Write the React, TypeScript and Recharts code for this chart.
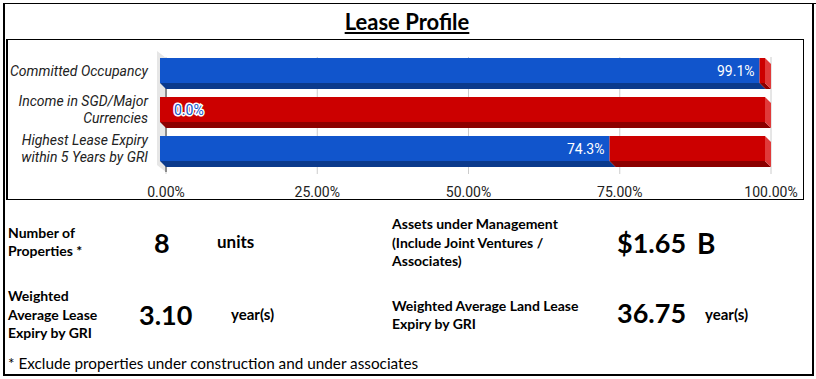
import React from 'react'
import {
  Bar,
  BarChart,
  CartesianGrid,
  LabelList,
  ReferenceLine,
  XAxis,
  YAxis
} from 'recharts'

// lease profile bars (percent of 100)
const categories = [
  'Committed Occupancy',
  'Income in SGD/Major\nCurrencies',
  'Highest Lease Expiry\nwithin 5 Years by GRI'
]
const filledPct = [99.1, 0.0, 74.3]
const remainderPct = [0.9, 100.0, 25.7]
const xTicks = [0, 25, 50, 75, 100]

// key figures under the chart
const leftStats = [
  { label: ['Number of', 'Properties *'], value: '8', unit: 'units' },
  { label: ['Weighted', 'Average Lease', 'Expiry by GRI'], value: '3.10', unit: 'year(s)' }
]
const rightStats = [
  {
    label: ['Assets under Management', '(Include Joint Ventures /', 'Associates)'],
    value: '$1.65',
    unit: 'B'
  },
  { label: ['Weighted Average Land Lease', 'Expiry by GRI'], value: '36.75', unit: 'year(s)' }
]
const footnote = '* Exclude properties under construction and under associates'

const data = categories.map((name, i) => ({
  name,
  filled: filledPct[i],
  rest: remainderPct[i]
}))

const DX = 6
const DY = 6
const BLUE = '#1155cc'
const RED = '#cc0000'
const FONT = 'Roboto, "Noto Sans", sans-serif'
const CAL = 'Lato, "Open Sans", sans-serif'

function make3D(front: string, bottom: string, side: string, withSide: boolean) {
  return (props: any) => {
    const { x, y, width, height } = props
    if (width == null || height == null) return <g />
    const fx = x - DX
    const fy = y - DY
    return (
      <g>
        <polygon
          points={`${fx},${fy + height} ${fx + width},${fy + height} ${x + width},${y + height} ${x},${y + height}`}
          fill={bottom}
        />
        {withSide && (
          <polygon
            points={`${fx + width},${fy} ${x + width},${y} ${x + width},${y + height} ${fx + width},${fy + height}`}
            fill={side}
          />
        )}
        <rect x={fx} y={fy} width={width} height={height} fill={front} />
      </g>
    )
  }
}

const blueShape = make3D(BLUE, '#0b3a8c', '#3c78d8', false)
const redShape = make3D(RED, '#8c0000', '#e03a3a', true)

function ValueLabel(props: any) {
  const vb = props.viewBox || props
  const { x, y, height } = vb
  const value = Number(props.value)
  const cy = y - DY + height / 2
  const text = `${value.toFixed(1)}%`
  if (value === 0) {
    return (
      <text
        x={x - DX + 14}
        y={cy}
        dominantBaseline="central"
        textAnchor="start"
        fontFamily={FONT}
        fontSize={14}
        fill={BLUE}
        stroke="#fff"
        strokeWidth={3}
        paintOrder="stroke"
      >
        {text}
      </text>
    )
  }
  return (
    <text
      x={x - DX - 5}
      y={cy}
      dominantBaseline="central"
      textAnchor="end"
      fontFamily={FONT}
      fontSize={14}
      fill="#fff"
    >
      {text}
    </text>
  )
}

function CategoryTick(props: any) {
  const { x, y, payload } = props
  const lines = String(payload.value).split('\n')
  const lh = 17
  const start = y - DY - ((lines.length - 1) * lh) / 2
  return (
    <text
      x={x - 18}
      textAnchor="end"
      fontFamily={FONT}
      fontSize={14}
      fontStyle="italic"
      fill="#222"
    >
      {lines.map((l, i) => (
        <tspan key={i} x={x - 18} y={start + i * lh} dominantBaseline="central">
          {l}
        </tspan>
      ))}
    </text>
  )
}

function ValueTick(props: any) {
  const { x, y, payload } = props
  return (
    <text
      x={x}
      y={y + 18}
      textAnchor="middle"
      dominantBaseline="central"
      fontFamily={FONT}
      fontSize={14}
      fill="#222"
    >
      {`${Number(payload.value).toFixed(2)}%`}
    </text>
  )
}

// back wall on the left of the 3d plot
function Wall(props: any) {
  const { x1, y1, y2 } = props
  const top = y1 - 2
  const bot = y2 + 1
  return (
    <g>
      <polygon
        points={`${x1},${top} ${x1},${bot} ${x1 - 9},${bot - 7} ${x1 - 9},${top - 7}`}
        fill="#e6e6e6"
      />
      <line x1={x1} y1={top} x2={x1} y2={bot} stroke="#333" strokeWidth={1} />
    </g>
  )
}

function StatBlock({
  stat,
  labelLeft,
  labelTop,
  lh,
  valueLeft,
  valueTop,
  unitLeft,
  unitTop,
  unitSize
}: any) {
  return (
    <>
      <div
        style={{
          position: 'absolute',
          left: labelLeft,
          top: labelTop,
          fontFamily: CAL,
          fontWeight: 700,
          fontSize: 14,
          lineHeight: `${lh}px`,
          whiteSpace: 'nowrap'
        }}
      >
        {stat.label.map((l: string, i: number) => (
          <div key={i}>{l}</div>
        ))}
      </div>
      <div
        style={{
          position: 'absolute',
          left: valueLeft,
          top: valueTop,
          fontFamily: CAL,
          fontWeight: 700,
          fontSize: 27,
          lineHeight: '32px',
          whiteSpace: 'nowrap'
        }}
      >
        {stat.value}
      </div>
      <div
        style={{
          position: 'absolute',
          left: unitLeft,
          top: unitTop,
          fontFamily: CAL,
          fontWeight: 700,
          fontSize: unitSize,
          lineHeight: `${Math.round(unitSize + 6)}px`,
          whiteSpace: 'nowrap'
        }}
      >
        {stat.unit}
      </div>
    </>
  )
}

export default function App() {
  return (
    <div
      style={{
        position: 'absolute',
        left: 0,
        top: 0,
        width: 816,
        height: 379,
        background: '#fff',
        overflow: 'hidden',
        color: '#000'
      }}
    >
      {/* outer frame */}
      <div
        style={{
          position: 'absolute',
          left: 3,
          top: 3,
          width: 807,
          height: 370,
          border: '2px solid #000',
          borderTopWidth: 1
        }}
      />
      <div style={{ position: 'absolute', left: 810, top: 3, width: 6, height: 1, background: '#000' }} />

      <div
        style={{
          position: 'absolute',
          left: 0,
          top: 8,
          width: 814,
          textAlign: 'center',
          fontFamily: CAL,
          fontWeight: 700,
          fontSize: 22,
          lineHeight: '27px',
          textDecoration: 'underline'
        }}
      >
        Lease Profile
      </div>

      {/* chart box */}
      <div
        style={{
          position: 'absolute',
          left: 6,
          top: 39,
          width: 795,
          height: 159,
          border: '1px solid #000',
          borderLeftWidth: 2
        }}
      />
      <div style={{ position: 'absolute', left: 6, top: 40 }}>
        <BarChart
          width={796}
          height={160}
          data={data}
          layout="vertical"
          margin={{ top: 17, right: 31, bottom: 0, left: 10 }}
          barSize={25}
        >
          <CartesianGrid horizontal={false} stroke="#cccccc" />
          <ReferenceLine x={0} shape={Wall} zIndex={-50} />
          <XAxis
            type="number"
            domain={[0, 100]}
            ticks={xTicks}
            height={26}
            tickLine={false}
            axisLine={false}
            tickSize={0}
            tickMargin={0}
            tick={<ValueTick />}
            interval={0}
          />
          <YAxis
            type="category"
            dataKey="name"
            width={150}
            tickLine={false}
            axisLine={false}
            tickSize={0}
            tickMargin={0}
            tick={<CategoryTick />}
            interval={0}
          />
          <Bar
            dataKey="filled"
            stackId="a"
            fill={BLUE}
            shape={blueShape}
            isAnimationActive={false}
          />
          <Bar
            dataKey="rest"
            stackId="a"
            fill={RED}
            shape={redShape}
            isAnimationActive={false}
          >
            <LabelList dataKey="filled" content={<ValueLabel />} />
          </Bar>
        </BarChart>
      </div>

      <StatBlock
        stat={leftStats[0]}
        labelLeft={8}
        labelTop={224}
        lh={17.5}
        valueLeft={154}
        valueTop={227}
        unitLeft={217}
        unitTop={230}
        unitSize={17}
      />
      <StatBlock
        stat={leftStats[1]}
        labelLeft={8}
        labelTop={287}
        lh={18.5}
        valueLeft={139}
        valueTop={299}
        unitLeft={231}
        unitTop={304}
        unitSize={15}
      />
      <StatBlock
        stat={rightStats[0]}
        labelLeft={392}
        labelTop={215}
        lh={18.5}
        valueLeft={617}
        valueTop={227}
        unitLeft={697}
        unitTop={226}
        unitSize={28}
      />
      <StatBlock
        stat={rightStats[1]}
        labelLeft={392}
        labelTop={297}
        lh={17.5}
        valueLeft={617}
        valueTop={297}
        unitLeft={705}
        unitTop={304}
        unitSize={15}
      />

      <div
        style={{
          position: 'absolute',
          left: 8,
          top: 353,
          fontFamily: CAL,
          fontSize: 15.3,
          lineHeight: '20px',
          whiteSpace: 'nowrap'
        }}
      >
        {footnote}
      </div>
    </div>
  )
}
